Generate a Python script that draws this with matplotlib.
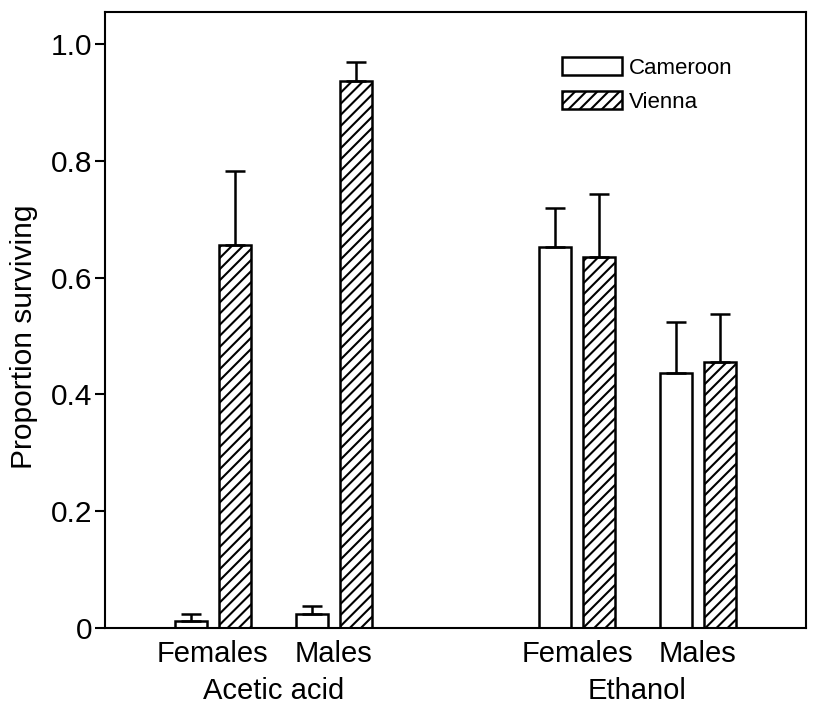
import matplotlib
matplotlib.use("Agg")
import matplotlib.pyplot as plt
import numpy as np

plt.rcParams['font.family'] = ['Liberation Sans', 'DejaVu Sans']
plt.rcParams['hatch.linewidth'] = 1.5

conditions = ["Acetic acid", "Ethanol"]
sexes = ["Females", "Males"]
series = ["Cameroon", "Vienna"]
# values ordered: acetic F, acetic M, ethanol F, ethanol M
cameroon = [0.012, 0.024, 0.652, 0.437]
cameroon_err = [0.012, 0.014, 0.068, 0.087]
vienna = [0.656, 0.936, 0.635, 0.455]
vienna_err = [0.126, 0.033, 0.108, 0.082]
yticks = [0, 0.2, 0.4, 0.6, 0.8, 1.0]
ytick_labels = ["0", "0.2", "0.4", "0.6", "0.8", "1.0"]

fig = plt.figure(figsize=(8.21, 7.12), dpi=100)
ax = fig.add_axes([105/821, (712-628)/712, 701/821, (628-12)/712])

cond_centers = np.array([5.26, 16.64])
sex_off = 1.89
ser_off = 0.69
w = 1.0
group_x = np.array([c + s * sex_off for c in cond_centers for s in (-1, 1)])

lw = 1.8
ekw = dict(ecolor='black', elinewidth=lw, capsize=7, capthick=lw)
ax.bar(group_x - ser_off, cameroon, w, color='white', edgecolor='black', linewidth=lw,
       yerr=[np.zeros(4), cameroon_err], error_kw=ekw, label=series[0], zorder=2)
ax.bar(group_x + ser_off, vienna, w, color='white', edgecolor='black', linewidth=lw, hatch='///',
       yerr=[np.zeros(4), vienna_err], error_kw=ekw, label=series[1], zorder=2)

ax.set_xlim(0, 701/32)
ax.set_ylim(0, 1.055)
ax.set_yticks(yticks)
ax.set_yticklabels(ytick_labels, fontsize=21.5)
ax.set_xticks([])
ax.tick_params(axis='y', direction='out', length=7, width=1.5, pad=2)
for sp in ax.spines.values():
    sp.set_linewidth(1.5)
ax.set_ylabel("Proportion surviving", fontsize=21.5)
ax.yaxis.set_label_coords(-0.096, 0.472)

trans = ax.get_xaxis_transform()
for gx, lab in zip(group_x, sexes * 2):
    ax.text(gx, -0.043, lab, transform=trans, ha='center', va='center', fontsize=21)
for cx, lab in zip(cond_centers, conditions):
    ax.text(cx, -0.103, lab, transform=trans, ha='center', va='center', fontsize=21)

leg = ax.legend(loc='upper left', bbox_to_anchor=(0.6396, 0.941), frameon=False, fontsize=16,
                handlelength=2.7, handleheight=0.85, handletextpad=0.3, labelspacing=0.55,
                borderaxespad=0)

fig.savefig("out.png", dpi=100)
